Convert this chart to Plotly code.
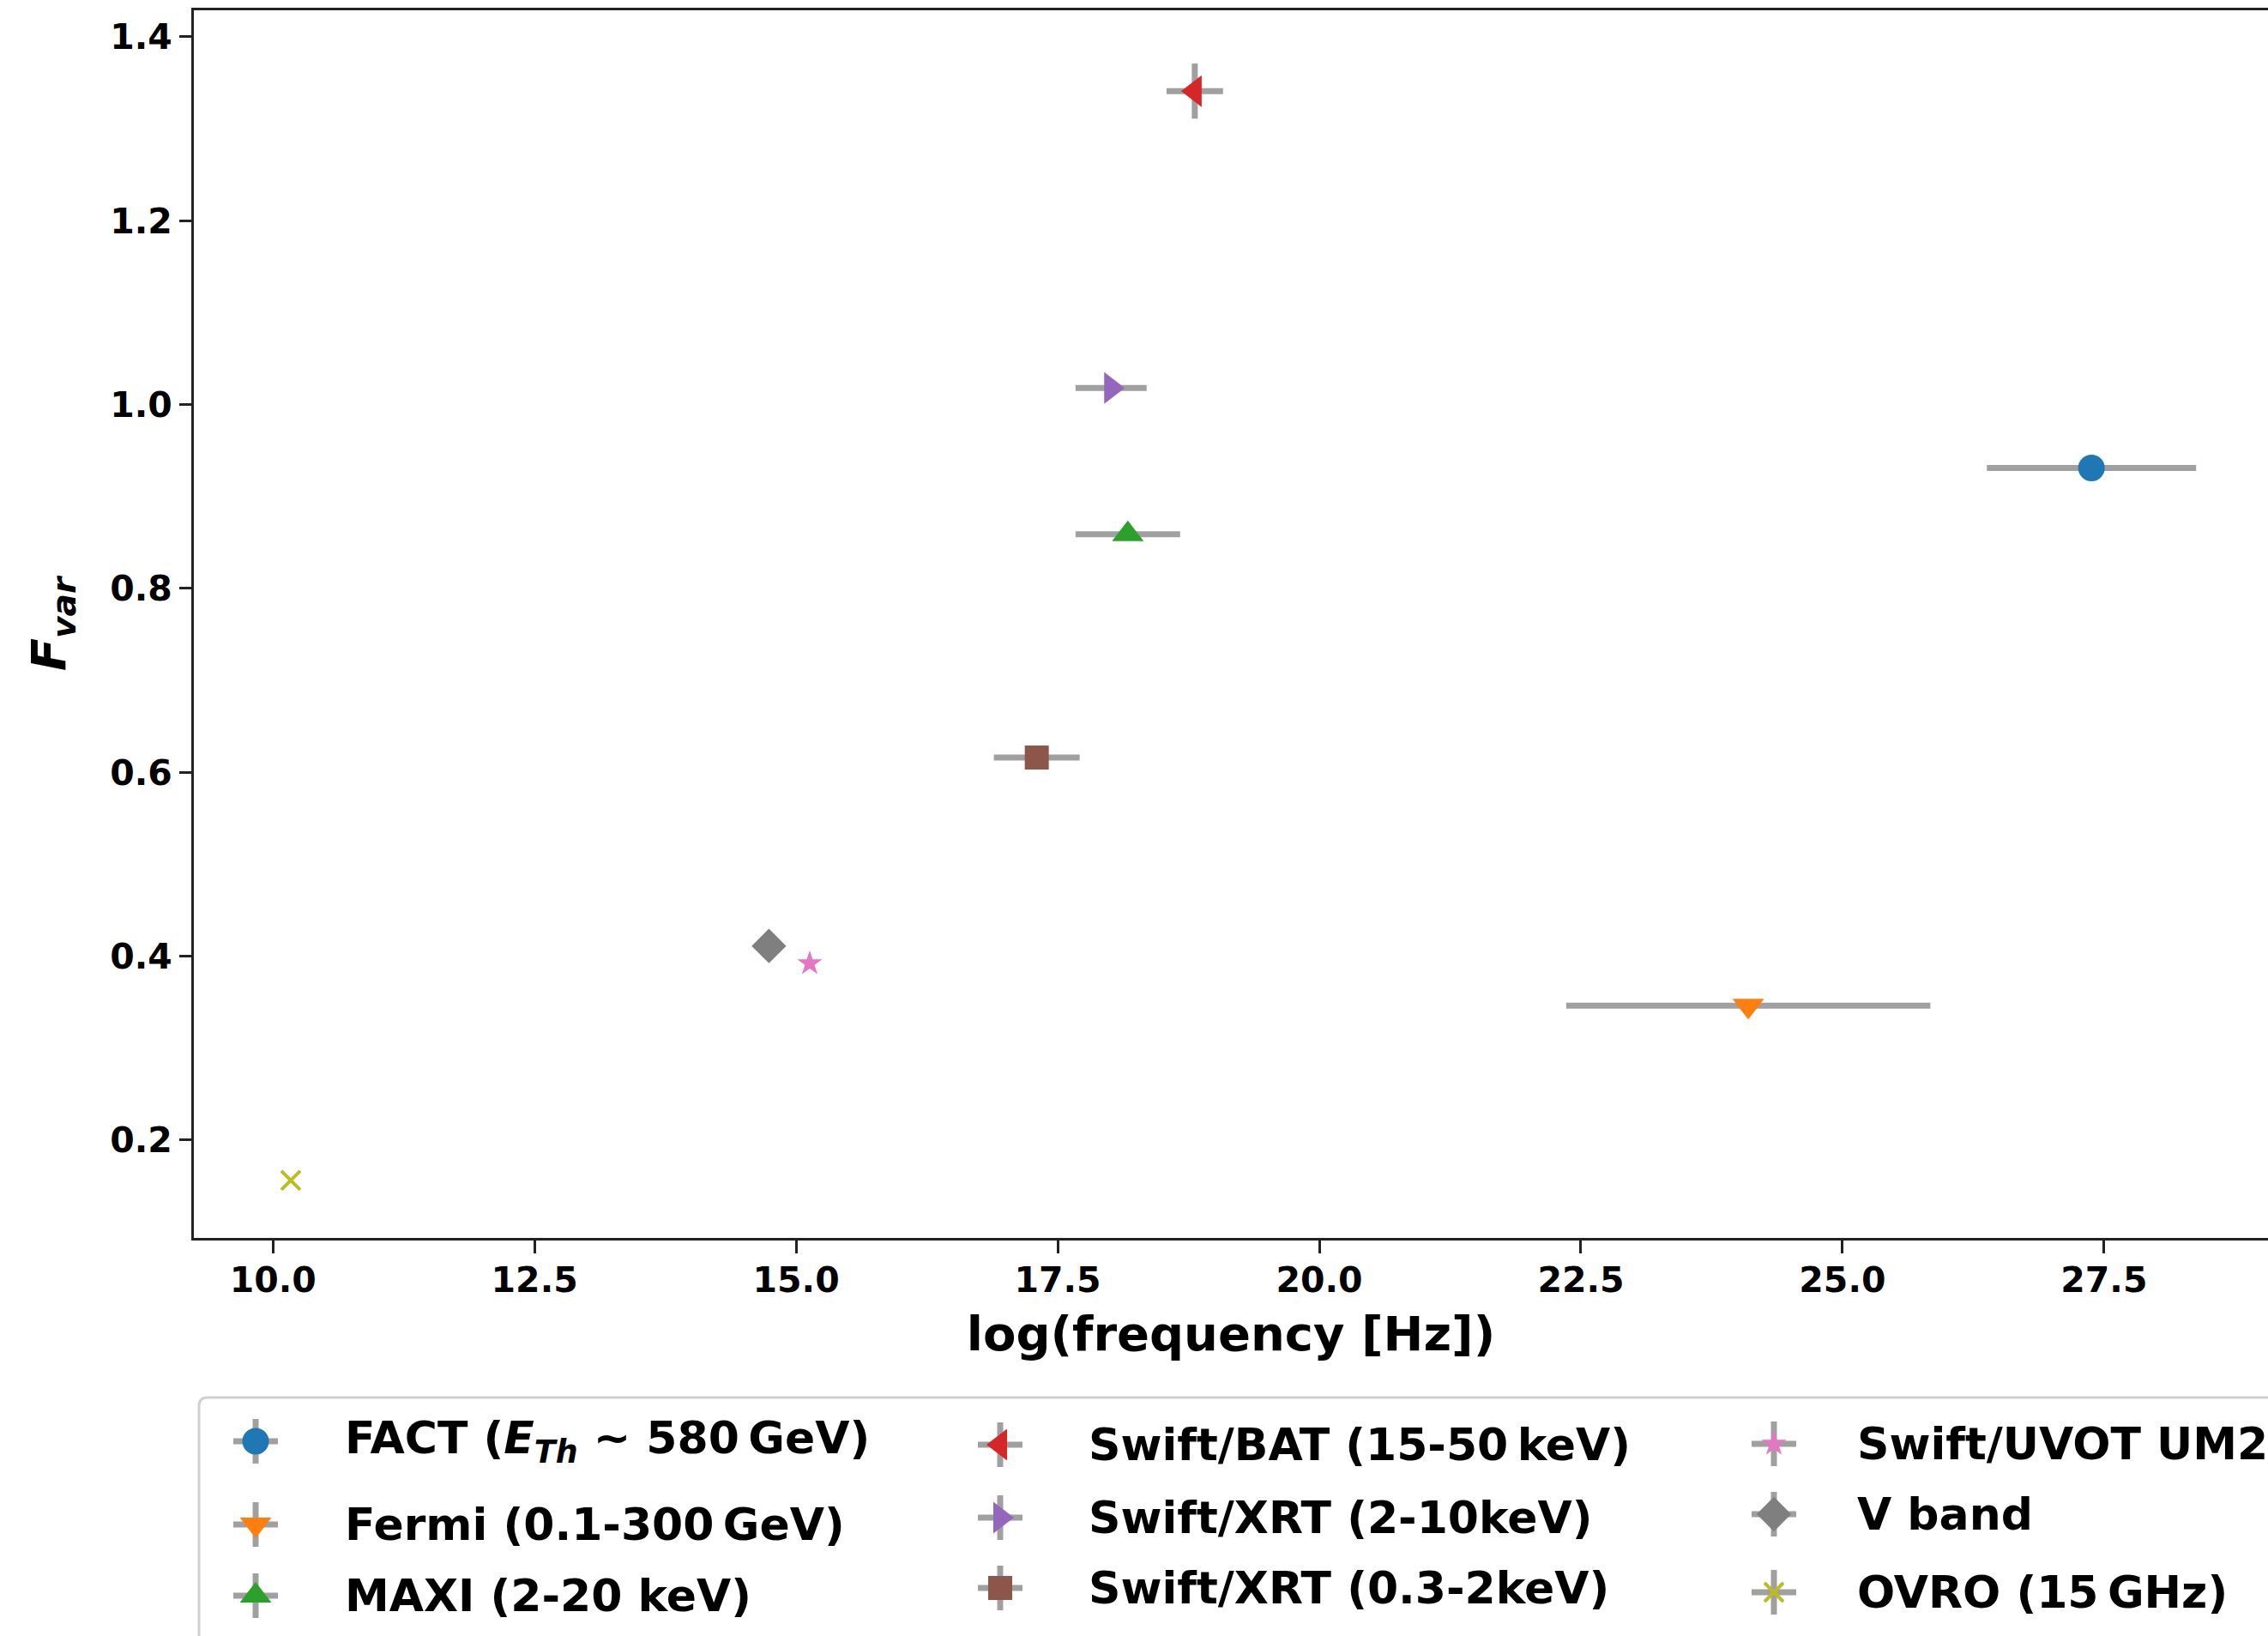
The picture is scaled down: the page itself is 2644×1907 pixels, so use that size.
import plotly.graph_objects as go

# ---------------------------------------------------------------- data
labels = [
    "FACT (<i>E<sub>Th</sub></i> ~ 580\u2009GeV)",
    "Fermi (0.1-300\u2009GeV)",
    "MAXI (2-20 keV)",
    "Swift/BAT (15-50\u2009keV)",
    "Swift/XRT (2-10keV)",
    "Swift/XRT (0.3-2keV)",
    "Swift/UVOT UM2",
    "V band",
    "OVRO (15\u2009GHz)",
]
log_freq = [27.38, 24.10, 18.17, 18.81, 18.01, 17.30, 15.13, 14.74, 10.17]
log_freq_err = [1.00, 1.74, 0.50, 0.27, 0.34, 0.41, 0.0, 0.0, 0.0]
f_var = [0.931, 0.346, 0.859, 1.341, 1.018, 0.616, 0.392, 0.411, 0.156]
f_var_err = [0.0, 0.0, 0.0, 0.030, 0.0, 0.0, 0.0, 0.0, 0.0]

x_ticks = [10.0, 12.5, 15.0, 17.5, 20.0, 22.5, 25.0, 27.5]
y_ticks = [0.2, 0.4, 0.6, 0.8, 1.0, 1.2, 1.4]

# -------------------------------------------------------------- styles
colors = ["#1f77b4", "#ff7f0e", "#2ca02c", "#d62728", "#9467bd",
          "#8c564b", "#e377c2", "#7f7f7f", "#bcbd22"]
symbols = ["circle", "triangle-down", "triangle-up", "triangle-left",
           "triangle-right", "square", "star", "diamond", "x-thin"]
sizes = [31, 32, 32, 32, 32, 28, 22, 31, 22]

W, H = 2644, 1907
FONT = "DejaVu Sans"
ERR_COLOR = "#a0a0a0"
ERR_W = 7
AXIS_COLOR = "#222222"

# plot-area placement on the page (pixels)
PLOT_L, PLOT_T, PLOT_B = 226, 12, 1443

# legend grid (pixels on the overlay axis), one row list per column
LEG_KEY_X = [298, 1166, 2068]
LEG_TEXT_X = [400, 1267, 2163]
LEG_ROW_Y = [[1680, 1777, 1860], [1684, 1769, 1851], [1683, 1765, 1856]]
LEG_ARM = 26
LEG_TOP, LEG_LEFT, LEG_R = 1629, 232, 10

fig = go.Figure()


def marker_style(i):
    if symbols[i] == "x-thin":
        return dict(symbol=symbols[i], size=sizes[i], color=colors[i],
                    line=dict(color=colors[i], width=4))
    return dict(symbol=symbols[i], size=sizes[i], color=colors[i],
                line=dict(width=0))


# data points with horizontal / vertical error bars
for i, name in enumerate(labels):
    fig.add_trace(go.Scatter(
        x=[log_freq[i]], y=[f_var[i]], mode="markers", name=name,
        marker=marker_style(i),
        error_x=dict(type="data", array=[log_freq_err[i]], color=ERR_COLOR,
                     thickness=ERR_W, width=0),
        error_y=dict(type="data", array=[f_var_err[i]], color=ERR_COLOR,
                     thickness=ERR_W, width=0),
        showlegend=False, xaxis="x", yaxis="y",
    ))

# legend keys: marker with an errorbar cross, laid out column by column
annotations = []
for i, name in enumerate(labels):
    col, row = divmod(i, 3)
    ky = LEG_ROW_Y[col][row]
    fig.add_trace(go.Scatter(
        x=[LEG_KEY_X[col]], y=[ky], mode="markers",
        marker=marker_style(i),
        error_x=dict(type="constant", value=LEG_ARM, color=ERR_COLOR,
                     thickness=ERR_W, width=0),
        error_y=dict(type="constant", value=LEG_ARM, color=ERR_COLOR,
                     thickness=ERR_W, width=0),
        showlegend=False, hoverinfo="skip", xaxis="x2", yaxis="y2",
    ))
    annotations.append(dict(
        x=LEG_TEXT_X[col], y=ky, xref="x2", yref="y2",
        text=name, showarrow=False, xanchor="left", yanchor="middle",
        font=dict(family=FONT, size=52, color="black", weight="bold"),
    ))

# legend frame (right and bottom run off the page)
frame_path = (
    f"M {LEG_LEFT},{H + 20} L {LEG_LEFT},{LEG_TOP + LEG_R} "
    f"Q {LEG_LEFT},{LEG_TOP} {LEG_LEFT + LEG_R},{LEG_TOP} L {W + 20},{LEG_TOP}"
)

fig.update_layout(
    width=W, height=H,
    margin=dict(l=0, r=0, t=0, b=0),
    paper_bgcolor="white", plot_bgcolor="rgba(0,0,0,0)",
    font=dict(family=FONT, color="black"),
    xaxis=dict(
        domain=[PLOT_L / W, 1.0], range=[9.244, 29.067], anchor="y",
        tickmode="array", tickvals=x_ticks, tickformat=".1f",
        ticks="outside", ticklen=15, tickwidth=3, tickcolor=AXIS_COLOR,
        ticklabelstandoff=-4,
        tickfont=dict(family=FONT, size=41, color="black", weight="bold"),
        showline=True, linecolor=AXIS_COLOR, linewidth=3, mirror=True,
        showgrid=False, zeroline=False,
        title=dict(text="log(frequency [Hz])", standoff=20,
                   font=dict(family=FONT, size=56, color="black", weight="bold")),
    ),
    yaxis=dict(
        domain=[1 - PLOT_B / H, 1 - PLOT_T / H], range=[0.0934, 1.4289],
        anchor="x",
        tickmode="array", tickvals=y_ticks, tickformat=".1f",
        ticks="outside", ticklen=14, tickwidth=3, tickcolor=AXIS_COLOR,
        tickfont=dict(family=FONT, size=41, color="black", weight="bold"),
        showline=True, linecolor=AXIS_COLOR, linewidth=3, mirror=False,
        showgrid=False, zeroline=False,
        title=dict(text="<i>F<sub>var</sub></i>", standoff=34,
                   font=dict(family=FONT, size=56, color="black", weight="bold")),
    ),
    xaxis2=dict(domain=[0, 1], range=[0, W], anchor="y2", visible=False,
                fixedrange=True),
    yaxis2=dict(domain=[0, 1], range=[H, 0], anchor="x2", visible=False,
                fixedrange=True),
    shapes=[dict(type="path", path=frame_path, xref="x2", yref="y2",
                 line=dict(color="#d0d0d0", width=3))],
    annotations=annotations,
)

fig.write_html("out.html")
